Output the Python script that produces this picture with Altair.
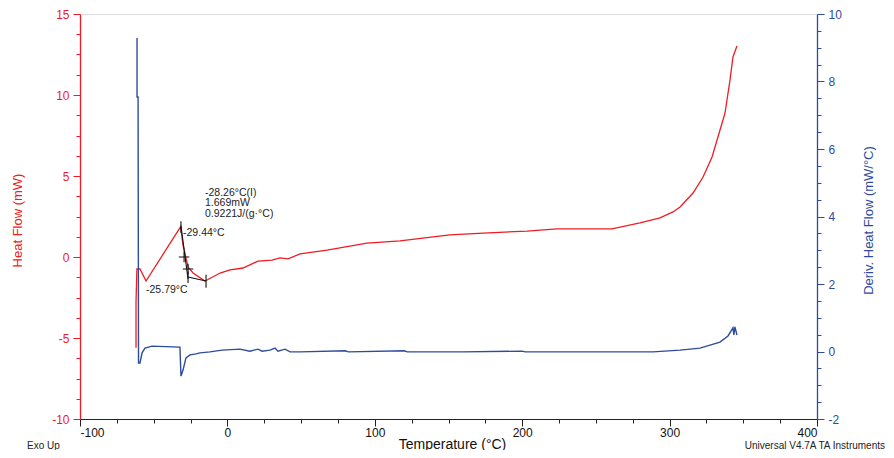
import altair as alt
import pandas as pd

# ---- data ----
# Heat flow (red, left axis, mW) vs temperature (degC)
hf_T = [-62.0, -62.0, -61.4, -59.3, -55.2, -31.7, -30.1, -26.7, -23.3, -15.2, -13.8,
        -5.0, 1.8, 10.6, 20.8, 30.3, 35.7, 41.1, 49.3, 67.6, 94.7, 117.1, 151.0,
        173.4, 203.3, 223.6, 260.9, 279.9, 293.5, 302.3, 307.1, 315.9, 322.7, 328.8,
        334.2, 337.6, 341.0, 343.0, 345.7]
hf_v = [-5.6, -2.78, -0.74, -0.74, -1.48, 1.87, 0.74, -0.62, -0.99, -1.48, -1.42,
        -0.99, -0.80, -0.68, -0.25, -0.19, -0.06, -0.12, 0.19, 0.43, 0.86, 0.99, 1.36,
        1.48, 1.60, 1.73, 1.73, 2.10, 2.41, 2.78, 3.09, 3.95, 4.94, 6.17,
        7.84, 8.89, 10.93, 12.35, 13.02]

# Derivative heat flow (blue, right axis, mW/degC)
d_T = [-61.3, -61.3, -60.6, -60.3, -59.3, -57.9, -55.9, -51.2, -32.2, -31.5, -30.1,
       -28.1, -25.4, -21.3, -18.6, -11.8, -3.7, 8.5, 15.3, 20.8, 23.5, 28.9, 32.3,
       34.3, 39.1, 42.5, 49.3, 80.0, 82.0, 120.0, 122.0, 160.0, 200.0, 202.0, 240.0,
       265.0, 288.7, 307.1, 320.6, 334.2, 339.6, 343.0, 343.6, 344.3, 345.7]
d_v = [9.29, 7.54, 7.54, -0.34, -0.34, -0.04, 0.10, 0.16, 0.13, -0.73, -0.55,
       -0.19, -0.10, -0.07, -0.04, -0.01, 0.04, 0.07, 0.01, 0.07, 0.01, 0.04, 0.10,
       0.01, 0.07, -0.01, -0.01, 0.02, -0.01, 0.02, -0.01, -0.01, 0.01, -0.01, -0.01,
       -0.01, -0.01, 0.04, 0.10, 0.28, 0.46, 0.70, 0.49, 0.73, 0.49]

# Glass-transition construction lines (black)
seg_id = ["a", "a", "b", "b", "t1", "t1", "t2", "t2", "t3", "t3"]
seg_T = [-31.5, -26.7, -26.7, -14.5, -31.5, -31.5, -26.7, -26.7, -14.5, -14.5]
seg_v = [1.91, -1.36, -1.23, -1.48, 1.5, 2.2, -0.9, -1.6, -1.1, -1.9]

cross_T = [-29.4, -26.7]
cross_v = [0.0, -0.74]

note_text = ["-28.26°C(I)", "1.669mW", "0.9221J/(g·°C)", "-29.44°C", "-25.79°C"]
note_T = [-15.2, -15.2, -15.2, -30.1, -55.2]
note_v = [3.98, 3.32, 2.66, 1.48, -2.04]

x_ticks = [-100 + 25 * i for i in range(21)]
l_ticks = [-10 + 1.25 * i for i in range(21)]
r_ticks = [-2 + 0.5 * i for i in range(25)]

RED = "#ee1c24"
BLUE = "#2e4b9e"
FONT = "Liberation Sans"
W, H = 737, 405

red_df = pd.DataFrame({"T": hf_T, "v": hf_v, "i": list(range(len(hf_T)))})
blue_df = pd.DataFrame({"T": d_T, "d": d_v, "i": list(range(len(d_T)))})
seg_df = pd.DataFrame({"T": seg_T, "v": seg_v, "seg": seg_id})
cross_df = pd.DataFrame({"T": cross_T, "v": cross_v})
note_df = pd.DataFrame({"T": note_T, "v": note_v, "txt": note_text})

x_axis = alt.Axis(
    values=x_ticks,
    labelExpr="datum.value % 100 === 0 ? '' + datum.value : ''",
    tickSize={"condition": {"test": "datum.value % 100 === 0", "value": 7}, "value": 4},
    title="Temperature (°C)", titleFont=FONT, titleFontSize=14, titleFontWeight="normal",
    titleColor="#111", titleBaseline="middle", titleY=25, titleX=372,
    labelFont=FONT, labelFontSize=12, labelColor="#111", labelPadding=1,
    domainColor="#222", tickColor="#222", grid=False, zindex=1,
)
x_enc = alt.X("T:Q", scale=alt.Scale(domain=[-100, 400], nice=False, zero=False), axis=x_axis)

l_axis = alt.Axis(
    values=l_ticks, orient="left",
    labelExpr="datum.value % 5 === 0 ? '' + datum.value : ''",
    tickSize={"condition": {"test": "datum.value % 5 === 0", "value": 7}, "value": 4},
    title="Heat Flow (mW)", titleFont=FONT, titleFontSize=13, titleFontWeight="normal",
    titleColor=RED, titleAngle=270, titleBaseline="middle", titleX=-63, titleY=206,
    labelFont=FONT, labelFontSize=12, labelColor=RED, labelPadding=4,
    domainColor=RED, domainWidth=1.3, tickColor=RED, grid=False, zindex=1,
)
y_left = alt.Y("v:Q", scale=alt.Scale(domain=[-10, 15], nice=False, zero=False), axis=l_axis)

r_axis = alt.Axis(
    values=r_ticks, orient="right",
    labelExpr="datum.value % 2 === 0 ? '' + datum.value : ''",
    tickSize={"condition": {"test": "datum.value % 2 === 0", "value": 7}, "value": 4},
    title="Deriv. Heat Flow (mW/°C)", titleFont=FONT, titleFontSize=13, titleFontWeight="normal",
    titleColor=BLUE, titleAngle=270, titleBaseline="middle", titleX=51, titleY=206,
    labelFont=FONT, labelFontSize=12, labelColor=BLUE, labelPadding=4,
    domainColor=BLUE, domainWidth=1.3, tickColor=BLUE, grid=False, zindex=1,
)
y_right = alt.Y("d:Q", scale=alt.Scale(domain=[-2, 10], nice=False, zero=False), axis=r_axis)

red_line = alt.Chart(red_df).mark_line(color=RED, strokeWidth=1.3).encode(
    x=x_enc, y=y_left, order="i:Q")

seg_lines = alt.Chart(seg_df).mark_line(color="#111", strokeWidth=1.1).encode(
    x=x_enc, y=y_left, detail="seg:N")

crosses = alt.Chart(cross_df).mark_point(
    shape="M-1,0L1,0M0,-1L0,1", color="#111", filled=False, size=110, strokeWidth=1.1, opacity=1
).encode(x=x_enc, y=y_left)

notes = alt.Chart(note_df).mark_text(
    align="left", baseline="middle", font=FONT, fontSize=10.5, color="#222"
).encode(x=x_enc, y=y_left, text="txt:N")

cap_left = alt.Chart(pd.DataFrame({"t": ["Exo Up"]})).mark_text(
    align="left", baseline="middle", font=FONT, fontSize=10, color="#222"
).encode(x=alt.value(-53), y=alt.value(432), text="t:N")

cap_right = alt.Chart(pd.DataFrame({"t": ["Universal V4.7A TA Instruments"]})).mark_text(
    align="right", baseline="middle", font=FONT, fontSize=10, color="#222"
).encode(x=alt.value(805), y=alt.value(432), text="t:N")

blue_line = alt.Chart(blue_df).mark_line(color=BLUE, strokeWidth=1.4).encode(
    x=x_enc, y=y_right, order="i:Q")

left_group = alt.layer(red_line, seg_lines, crosses, notes, cap_left, cap_right)

chart = alt.layer(left_group, blue_line).resolve_scale(y="independent").properties(
    width=W, height=H,
    autosize=alt.AutoSizeParams(type="none"),
    padding={"left": 72, "top": 6, "right": 69, "bottom": 31},
).configure_view(stroke="#222", strokeWidth=1).configure(background="white")

chart.save("out.html", embed_options={"renderer": "svg", "actions": False})
